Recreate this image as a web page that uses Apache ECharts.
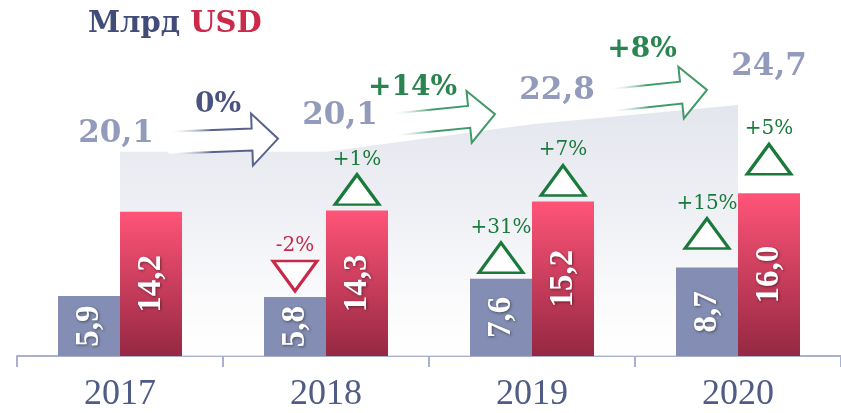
<!DOCTYPE html>
<html>
<head>
<meta charset="utf-8">
<script src="https://cdn.jsdelivr.net/npm/echarts@6/dist/echarts.min.js"></script>
<style>
  html, body { margin: 0; padding: 0; background: #fff; }
  #chart { width: 841px; height: 413px; }
</style>
</head>
<body>
<div id="chart"></div>
<script>
// data
var years = ['2017', '2018', '2019', '2020'];
var blueValues = [5.9, 5.8, 7.6, 8.7];
var redValues = [14.2, 14.3, 15.2, 16.0];
var totals = [20.1, 20.1, 22.8, 24.7];
var totalGrowth = ['0%', '+14%', '+8%'];
var blueChange = [null, -2, 31, 15];
var redChange = [null, 1, 7, 5];

// layout tweaks
var totalLabelShift = [[-4, -18], [14, -36], [25, -33], [31, -38]];
var arrowLabelShift = [[-5, -36], [-31, -32], [-16, -45]];
var markerLift = [0, 21, 21, 34];

var GREEN = '#1a7a3c';
var RED = '#c8284a';
var numFont = 'DejaVu Serif';

function fmt(v) {
  return v.toFixed(1).replace('.', ',');
}

function changeData(values, changes, dx) {
  var out = [];
  for (var i = 0; i < values.length; i++) {
    if (changes[i] === null) continue;
    var up = changes[i] >= 0;
    var color = up ? GREEN : RED;
    out.push({
      value: [i, values[i]],
      change: changes[i],
      symbol: up ? 'triangle' : 'path://M0,0L20,0L10,14Z',
      symbolOffset: [dx, -markerLift[i]],
      itemStyle: { color: '#fff', borderColor: color, borderWidth: 3, opacity: 1 },
      label: { color: color }
    });
  }
  return out;
}

var chart = echarts.init(document.getElementById('chart'));

var barLabel = {
  show: true, position: 'inside', rotate: 90,
  formatter: function(p) { return fmt(p.value); },
  fontFamily: 'Liberation Serif', fontWeight: 'bold', fontSize: 33, color: '#fff',
  textShadowColor: 'rgba(0,0,0,0.45)', textShadowBlur: 3, textShadowOffsetX: 1, textShadowOffsetY: 1
};

var option = {
  animation: false,
  grid: { left: 17, right: -4, top: 51, bottom: 56 },
  xAxis: {
    type: 'category',
    data: years,
    axisLine: { lineStyle: { color: '#a9b1cf', width: 2 } },
    axisTick: { show: true, length: 11, lineStyle: { color: '#a9b1cf', width: 2 } },
    axisLabel: { margin: 21, fontFamily: 'Liberation Serif', fontSize: 36, color: '#505b86' }
  },
  yAxis: { type: 'value', min: 0, max: 30, show: false, splitLine: { show: false } },
  series: [
    {
      type: 'line',
      data: totals,
      symbol: 'none',
      lineStyle: { width: 0 },
      z: 1,
      areaStyle: {
        opacity: 1,
        color: new echarts.graphic.LinearGradient(0, 0, 0, 1, [
          { offset: 0, color: 'rgba(228,230,238,1)' },
          { offset: 0.45, color: 'rgba(238,239,244,0.9)' },
          { offset: 1, color: 'rgba(255,255,255,0.6)' }
        ])
      }
    },
    {
      type: 'bar',
      data: blueValues,
      barWidth: 62,
      barGap: '0%',
      z: 3,
      itemStyle: { color: '#848db3' },
      label: barLabel
    },
    {
      type: 'bar',
      data: redValues,
      barWidth: 62,
      z: 3,
      itemStyle: {
        color: new echarts.graphic.LinearGradient(0, 0, 0, 1, [
          { offset: 0, color: '#ff5478' },
          { offset: 1, color: '#952842' }
        ])
      },
      label: barLabel
    },
    {
      type: 'scatter',
      data: changeData(blueValues, blueChange, -31).concat(changeData(redValues, redChange, 31)),
      symbolSize: [44, 30],
      z: 5,
      itemStyle: { opacity: 1 },
      label: {
        show: true, position: 'top', distance: 4,
        fontFamily: numFont, fontSize: 20,
        formatter: function(p) {
          var c = p.data.change;
          return (c > 0 ? '+' : '') + c + '%';
        }
      }
    }
  ],
  graphic: [
    {
      type: 'text', left: 88, top: 10, z: 10,
      style: {
        rich: {
          a: { fill: '#414c78', font: 'bold 29px "DejaVu Serif"' },
          b: { fill: '#cc2a4b', font: 'bold 29px "DejaVu Serif"' }
        },
        text: '{a|Млрд }{b|USD}'
      }
    }
  ]
};

chart.setOption(option);

// arrow shape between two points, hollow with fading tail
function arrowShapes(t, p, color) {
  var dx = p[0] - t[0], dy = p[1] - t[1];
  var len = Math.sqrt(dx * dx + dy * dy);
  var ux = dx / len, uy = dy / len;
  var nx = -uy, ny = ux;
  var hl = 26, bh = 11, hh = 26;
  var b = [p[0] - ux * hl, p[1] - uy * hl];
  var pts = [
    [t[0] + nx * bh, t[1] + ny * bh],
    [b[0] + nx * bh, b[1] + ny * bh],
    [b[0] + nx * hh, b[1] + ny * hh],
    [p[0], p[1]],
    [b[0] - nx * hh, b[1] - ny * hh],
    [b[0] - nx * bh, b[1] - ny * bh],
    [t[0] - nx * bh, t[1] - ny * bh]
  ];
  var stroke = new echarts.graphic.LinearGradient(t[0], t[1], p[0], p[1], [
    { offset: 0, color: 'rgba(255,255,255,0)' },
    { offset: 0.4, color: color },
    { offset: 1, color: color }
  ], true);
  return [
    { type: 'polygon', z: 10, shape: { points: pts }, style: { fill: '#fff', stroke: null } },
    { type: 'polyline', z: 11, shape: { points: pts }, style: { stroke: stroke, lineWidth: 2, fill: null } }
  ];
}

var graphics = option.graphic.slice();
var labelPos = [];
for (var i = 0; i < totals.length; i++) {
  var px = chart.convertToPixel({ xAxisIndex: 0, yAxisIndex: 0 }, [i, totals[i]]);
  var lp = [px[0] + totalLabelShift[i][0], px[1] + totalLabelShift[i][1]];
  labelPos.push(lp);
  graphics.push({
    type: 'text', x: lp[0], y: lp[1], z: 12,
    style: {
      text: fmt(totals[i]), fill: '#939bbd',
      font: 'bold 31px "DejaVu Serif"', align: 'center', verticalAlign: 'middle'
    }
  });
}
for (var j = 0; j < totalGrowth.length; j++) {
  var tail = [labelPos[j][0] + 52, labelPos[j][1] + 9];
  var tip = [labelPos[j + 1][0] - 62, labelPos[j + 1][1] + 23];
  var col = j === 0 ? '#57628e' : '#3f9a68';
  graphics = graphics.concat(arrowShapes(tail, tip, col));
  var mid = [(tail[0] + tip[0]) / 2 + arrowLabelShift[j][0], (tail[1] + tip[1]) / 2 + arrowLabelShift[j][1]];
  graphics.push({
    type: 'text', x: mid[0], y: mid[1], z: 12,
    style: {
      text: totalGrowth[j], fill: j === 0 ? '#48537f' : '#2a8450',
      font: 'bold 28px "DejaVu Serif"', align: 'center', verticalAlign: 'middle'
    }
  });
}
chart.setOption({ graphic: graphics });
</script>
</body>
</html>
